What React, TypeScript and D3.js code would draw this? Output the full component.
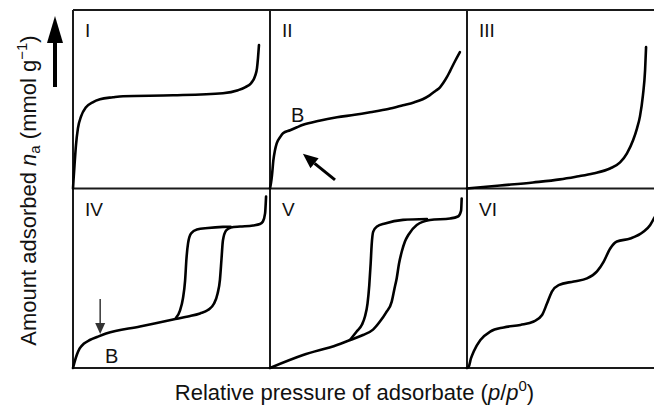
import React from "react";
import * as d3 from "d3";

// Relative pressure p/p0 (0..1) vs. normalised amount adsorbed (0..1)
type Pt = [number, number];

const typeI: Pt[] = [
  [0, 0], [0.0025, 0.045], [0.0076, 0.129], [0.015, 0.242], [0.025, 0.337],
  [0.041, 0.404], [0.066, 0.455], [0.1, 0.483], [0.137, 0.5], [0.203, 0.511],
  [0.254, 0.517], [0.508, 0.522], [0.761, 0.534], [0.838, 0.551], [0.873, 0.567],
  [0.904, 0.59], [0.924, 0.629], [0.934, 0.674], [0.939, 0.73], [0.944, 0.803],
];

const typeII: Pt[] = [
  [0, 0], [0.005, 0.03], [0.01, 0.073], [0.017, 0.157], [0.025, 0.213],
  [0.034, 0.253], [0.051, 0.287], [0.066, 0.309], [0.102, 0.326], [0.137, 0.343],
  [0.168, 0.357], [0.25, 0.38], [0.34, 0.399], [0.43, 0.413], [0.508, 0.427],
  [0.6, 0.445], [0.675, 0.466], [0.73, 0.482], [0.775, 0.5], [0.81, 0.522],
  [0.838, 0.545], [0.863, 0.567], [0.88, 0.592], [0.897, 0.622], [0.914, 0.658],
  [0.939, 0.713], [0.964, 0.764],
];

const typeIII: Pt[] = [
  [0, 0], [0.168, 0.017], [0.335, 0.034], [0.472, 0.051], [0.558, 0.067],
  [0.64, 0.084], [0.726, 0.112], [0.777, 0.146], [0.812, 0.197], [0.843, 0.27],
  [0.863, 0.337], [0.878, 0.404], [0.893, 0.522], [0.904, 0.663], [0.909, 0.792],
];

const typeIVAdsorption: Pt[] = [
  [0, 0], [0.0086, 0.036], [0.02, 0.075], [0.034, 0.109], [0.056, 0.136],
  [0.085, 0.156], [0.127, 0.175], [0.168, 0.192], [0.34, 0.231], [0.508, 0.27],
  [0.584, 0.287], [0.645, 0.304], [0.685, 0.323], [0.716, 0.359], [0.734, 0.415],
  [0.746, 0.493], [0.754, 0.61], [0.761, 0.71], [0.777, 0.766], [0.802, 0.783],
  [0.848, 0.788], [0.914, 0.794], [0.949, 0.802], [0.964, 0.816], [0.975, 0.861],
  [0.98, 0.955],
];

const typeIVDesorption: Pt[] = [
  [0.523, 0.279], [0.543, 0.32], [0.558, 0.387], [0.569, 0.487], [0.576, 0.61],
  [0.584, 0.694], [0.599, 0.749], [0.629, 0.772], [0.685, 0.78], [0.761, 0.786],
  [0.8, 0.787],
];

const typeVAdsorption: Pt[] = [
  [0, 0], [0.168, 0.072], [0.34, 0.128], [0.406, 0.156], [0.472, 0.184],
  [0.523, 0.214], [0.558, 0.259], [0.589, 0.309], [0.618, 0.37], [0.632, 0.443],
  [0.643, 0.499], [0.655, 0.582], [0.669, 0.649], [0.685, 0.705], [0.702, 0.741],
  [0.745, 0.797], [0.812, 0.825], [0.914, 0.833], [0.954, 0.844], [0.97, 0.877],
  [0.973, 0.944],
];

const typeVDesorption: Pt[] = [
  [0.406, 0.156], [0.44, 0.203], [0.467, 0.242], [0.482, 0.287], [0.495, 0.359],
  [0.504, 0.462], [0.511, 0.582], [0.516, 0.685], [0.524, 0.76], [0.543, 0.788],
  [0.584, 0.805], [0.675, 0.825], [0.797, 0.83],
];

const typeVI: Pt[] = [
  [0, 0], [0.009, 0.008], [0.02, 0.053], [0.034, 0.092], [0.068, 0.156],
  [0.118, 0.203], [0.186, 0.226], [0.271, 0.24], [0.339, 0.259], [0.381, 0.295],
  [0.406, 0.359], [0.431, 0.426], [0.465, 0.462], [0.542, 0.482], [0.609, 0.499],
  [0.66, 0.538], [0.694, 0.593], [0.727, 0.666], [0.761, 0.705], [0.829, 0.721],
  [0.897, 0.76], [0.93, 0.797], [0.949, 0.833], [0.97, 0.877],
];

const panelLabels = ["I", "II", "III", "IV", "V", "VI"];
const panelCurves: Pt[][][] = [
  [typeI],
  [typeII],
  [typeIII],
  [typeIVAdsorption, typeIVDesorption],
  [typeVAdsorption, typeVDesorption],
  [typeVI],
];

const yLabel = "Amount adsorbed";
const xLabel = "Relative pressure of adsorbate";

const W = 654;
const H = 406;
const gridLeft = 73;
const panelW = 197;
const rowEdges = [10, 188.5, 368];
const font = "'Liberation Sans', Arial, Helvetica, sans-serif";

export default function App() {
  const colX = d3.scaleLinear().domain([0, 1]).range([gridLeft, gridLeft + panelW]);

  const panels = panelLabels.map((label, i) => {
    const col = i % 3;
    const row = Math.floor(i / 3);
    const x0 = colX(col);
    const y0 = rowEdges[row];
    const y1 = rowEdges[row + 1];
    const xs = d3.scaleLinear().domain([0, 1]).range([x0, x0 + panelW]);
    const ys = d3.scaleLinear().domain([0, 1]).range([y1, y0]);
    const line = d3
      .line<Pt>()
      .x((d) => xs(d[0]))
      .y((d) => ys(d[1]))
      .curve(d3.curveMonotoneX);
    return { label, x0, y0, y1, xs, ys, line, curves: panelCurves[i] };
  });

  const p2 = panels[1];
  const p4 = panels[3];

  return (
    <div style={{ position: "absolute", left: 0, top: 0 }}>
      <svg width={W} height={H} viewBox={`0 0 ${W} ${H}`} style={{ display: "block", background: "#fff" }}>
        {/* grid frame */}
        <g stroke="#1a1a1a" strokeWidth={2} fill="none">
          {rowEdges.map((y, i) => (
            <line key={"h" + i} x1={gridLeft} x2={W + 2} y1={y} y2={y} />
          ))}
          {[0, 1, 2].map((c) => (
            <line key={"v" + c} x1={colX(c)} x2={colX(c)} y1={rowEdges[0]} y2={rowEdges[2]} />
          ))}
        </g>

        {/* isotherms */}
        <g fill="none" stroke="#000" strokeWidth={2.6} strokeLinejoin="round" strokeLinecap="round">
          {panels.map((p, i) =>
            p.curves.map((c, j) => <path key={i + "-" + j} d={p.line(c) || ""} />)
          )}
        </g>

        {/* panel labels */}
        <g fontFamily={font} fontSize={19} fill="#111">
          {panels.map((p, i) => (
            <text key={"l" + i} x={p.x0 + 12} y={p.y0 + 27}>
              {p.label}
            </text>
          ))}
        </g>

        {/* point B, type II */}
        <text x={p2.xs(0.107)} y={p2.ys(0.37)} fontFamily={font} fontSize={20} fill="#111">
          B
        </text>
        <g>
          {(() => {
            const tx = p2.xs(0.167);
            const ty = p2.ys(0.194);
            const fx = p2.xs(0.33);
            const fy = p2.ys(0.048);
            const ang = Math.atan2(ty - fy, tx - fx);
            const L = 15;
            const hw = 6.5;
            const bx = tx - L * Math.cos(ang);
            const by = ty - L * Math.sin(ang);
            const nx = -Math.sin(ang);
            const ny = Math.cos(ang);
            return (
              <>
                <line x1={fx} y1={fy} x2={bx} y2={by} stroke="#000" strokeWidth={3} />
                <polygon
                  points={`${tx},${ty} ${bx + nx * hw},${by + ny * hw} ${bx - nx * hw},${by - ny * hw}`}
                  fill="#000"
                />
              </>
            );
          })()}
        </g>

        {/* point B, type IV */}
        <text x={p4.xs(0.162)} y={p4.ys(0.03)} fontFamily={font} fontSize={20} fill="#111">
          B
        </text>
        <g>
          {(() => {
            const x = p4.xs(0.138);
            const top = p4.ys(0.385);
            const tip = p4.ys(0.19);
            return (
              <>
                <line x1={x} x2={x} y1={top} y2={tip - 9} stroke="#444" strokeWidth={1.6} />
                <polygon points={`${x},${tip} ${x - 5},${tip - 11} ${x + 5},${tip - 11}`} fill="#333" />
              </>
            );
          })()}
        </g>

        {/* y-axis direction arrow */}
        <line x1={55} x2={55} y1={87} y2={40} stroke="#000" strokeWidth={4} />
        <polygon points="55,16 47,43 63,43" fill="#000" />

        {/* y-axis title */}
        <text
          transform="translate(36,190.5) rotate(-90)"
          textAnchor="middle"
          fontFamily={font}
          fontSize={22}
          fill="#111"
        >
          {yLabel}{" "}
          <tspan fontStyle="italic">n</tspan>
          <tspan fontSize={15} dy={4}>a</tspan>
          <tspan dy={-4}> (mmol g</tspan>
          <tspan fontSize={15} dy={-9}>−1</tspan>
          <tspan dy={9}>)</tspan>
        </text>

        {/* x-axis title */}
        <text x={354.5} y={400} textAnchor="middle" fontFamily={font} fontSize={22} fill="#111">
          {xLabel} (<tspan fontStyle="italic">p</tspan>/<tspan fontStyle="italic">p</tspan>
          <tspan fontSize={15} dy={-9}>0</tspan>
          <tspan dy={9}>)</tspan>
        </text>
      </svg>
    </div>
  );
}
